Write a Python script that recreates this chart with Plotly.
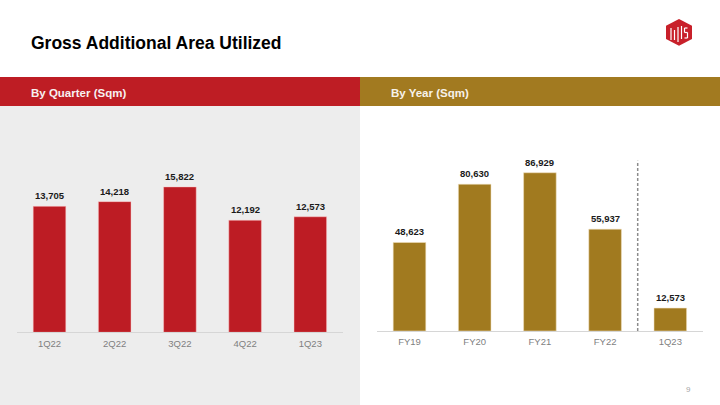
import plotly.graph_objects as go

# ---- data ----
quarters = ["1Q22", "2Q22", "3Q22", "4Q22", "1Q23"]
quarter_values = [13705, 14218, 15822, 12192, 12573]
years = ["FY19", "FY20", "FY21", "FY22", "1Q23"]
year_values = [48623, 80630, 86929, 55937, 12573]

title_text = "Gross Additional Area Utilized"
left_header = "By Quarter (Sqm)"
right_header = "By Year (Sqm)"
page_number = "9"

RED = "#bd1c24"
GOLD = "#a17a1f"
FONT = "Liberation Sans, Arial, sans-serif"
W, H = 720, 405


def px(x):
    return x / W


def py(y):
    return 1 - y / H


fig = go.Figure()
fig.add_trace(go.Bar(
    x=quarters, y=quarter_values, xaxis="x", yaxis="y",
    marker=dict(color=RED, line=dict(color="rgba(255,200,200,0.6)", width=0.8)),
    cliponaxis=False, showlegend=False, hoverinfo="skip",
))
fig.add_trace(go.Bar(
    x=years, y=year_values, xaxis="x2", yaxis="y2",
    marker=dict(color=GOLD, line=dict(color="rgba(240,225,190,0.7)", width=0.8)),
    cliponaxis=False, showlegend=False, hoverinfo="skip",
))

axis_common = dict(
    type="category", showline=True, linecolor="#d6d6d6", linewidth=1,
    showgrid=False, zeroline=False, ticks="", fixedrange=True,
    ticklabelstandoff=2,
    tickfont=dict(family=FONT, size=9.5, color="#7f7f7f"),
)

shapes = [
    # gray background left panel
    dict(type="rect", xref="paper", yref="paper", x0=0, x1=0.5, y0=0, y1=py(106),
         fillcolor="#ededed", line=dict(width=0), layer="below"),
    # header bars
    dict(type="rect", xref="paper", yref="paper", x0=0, x1=0.5, y0=py(106), y1=py(77),
         fillcolor="#be1d24", line=dict(width=0), layer="below"),
    dict(type="rect", xref="paper", yref="paper", x0=0.5, x1=1, y0=py(106), y1=py(77),
         fillcolor="#a27a20", line=dict(width=0), layer="below"),
    # dashed divider between FY22 and 1Q23
    dict(type="line", xref="x2", yref="y2", x0=3.5, x1=3.5, y0=0, y1=93500,
         line=dict(color="#8c8c8c", width=1.5, dash="3px,2px")),
]

# logo: red hexagon with white strokes
hexpts = [(679, 19), (692, 25.7), (692, 39), (679, 45.7), (666, 39), (666, 25.7)]
path = "M " + " L ".join(f"{px(x):.5f},{py(y):.5f}" for x, y in hexpts) + " Z"
shapes.append(dict(type="path", xref="paper", yref="paper", path=path,
                   fillcolor="#c8202a", line=dict(width=0)))
for (x0, y0, x1, y1) in [(671, 28, 671, 40), (674.5, 30, 674.5, 40), (678, 27, 678, 42),
                         (681.5, 26, 681.5, 39), (684.5, 28, 687.5, 28), (684.5, 28, 684.5, 32.5),
                         (684.5, 32.5, 687.5, 32.5), (687.5, 32.5, 687.5, 38), (684.5, 38, 687.5, 38)]:
    shapes.append(dict(type="line", xref="paper", yref="paper",
                       x0=px(x0), x1=px(x1), y0=py(y0), y1=py(y1),
                       line=dict(color="white", width=1.2)))

annotations = [
    dict(text=title_text, x=px(29), y=py(43.5), xref="paper", yref="paper",
         xanchor="left", yanchor="middle", showarrow=False,
         font=dict(family=FONT, size=17.5, color="#000000", weight="bold")),
    dict(text=left_header, x=px(29), y=py(92.5), xref="paper", yref="paper",
         xanchor="left", yanchor="middle", showarrow=False,
         font=dict(family=FONT, size=11.5, color="#f7f0f0", weight="bold")),
    dict(text=right_header, x=px(389), y=py(92.5), xref="paper", yref="paper",
         xanchor="left", yanchor="middle", showarrow=False,
         font=dict(family=FONT, size=11.5, color="#f7f2ea", weight="bold")),
    dict(text=page_number, x=px(688), y=py(389), xref="paper", yref="paper",
         xanchor="center", yanchor="middle", showarrow=False,
         font=dict(family=FONT, size=8, color="#a6a6a6")),
]

label_font = dict(family=FONT, size=9.5, color="#1a1a1a", weight="bold")
for cat, v in zip(quarters, quarter_values):
    annotations.append(dict(text=f"{v:,}", x=cat, y=v, xref="x", yref="y",
                            xanchor="center", yanchor="bottom", yshift=3,
                            showarrow=False, font=label_font))
for cat, v in zip(years, year_values):
    annotations.append(dict(text=f"{v:,}", x=cat, y=v, xref="x2", yref="y2",
                            xanchor="center", yanchor="bottom", yshift=3,
                            showarrow=False, font=label_font))

fig.update_layout(
    width=W, height=H, margin=dict(l=0, r=0, t=0, b=0),
    paper_bgcolor="white", plot_bgcolor="rgba(0,0,0,0)",
    bargap=0.5, showlegend=False,
    xaxis=dict(domain=[px(16.9), px(342.9)], anchor="y", **axis_common),
    yaxis=dict(domain=[py(332.3), py(106)], range=[0, 24625], visible=False,
               fixedrange=True, anchor="x"),
    xaxis2=dict(domain=[px(376.9), px(702.9)], anchor="y2", **axis_common),
    yaxis2=dict(domain=[py(331), py(106)], range=[0, 123600], visible=False,
                fixedrange=True, anchor="x2"),
    shapes=shapes, annotations=annotations,
)

fig.write_html(
    "out.html",
    config={"displayModeBar": False},
    post_script="document.body.style.margin='0px';document.body.style.overflow='hidden';",
)
